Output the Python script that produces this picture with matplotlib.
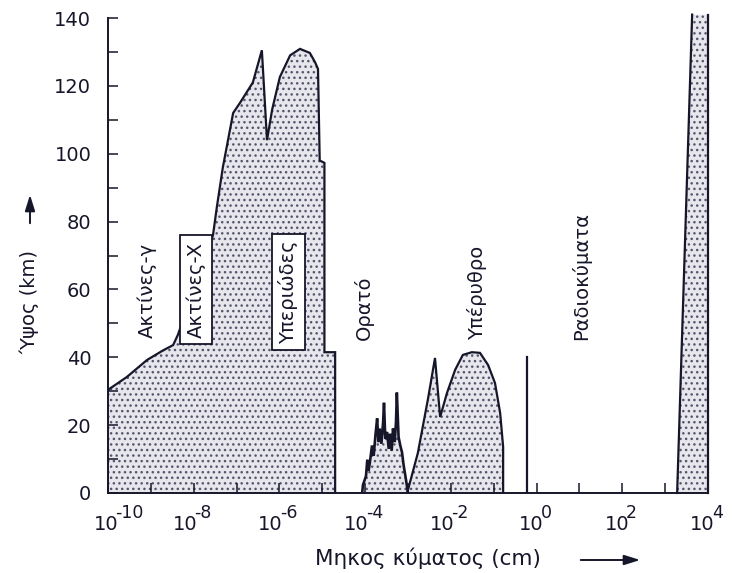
import numpy as np
import matplotlib
matplotlib.use("Agg")
import matplotlib.pyplot as plt
from matplotlib.ticker import FixedLocator, NullFormatter, MultipleLocator
from matplotlib.patches import FancyArrowPatch

plt.rcParams['font.family'] = ['DejaVu Sans']

#ατμοσφαιρική απορρόφηση: log10(μήκος κύματος, cm) και ύψος (km)
main_logwl = [-10.0, -9.56, -9.09, -8.72, -8.48, -8.37, -7.55, -7.46, -7.32, -7.08, -6.92,
              -6.62, -6.41, -6.38, -6.29, -6.17, -5.99, -5.75, -5.52, -5.29, -5.17, -5.10,
              -5.06, -4.95, -4.95, -4.70, -4.70]
main_km = [30.4, 34.2, 39.2, 42.0, 43.6, 46.6, 76.0, 84.3, 96.0, 112.0, 115.0,
           121.0, 130.5, 124.0, 104.0, 113.0, 122.6, 129.0, 130.9, 129.7, 127.0, 125.0,
           98.0, 97.3, 41.5, 41.5, 0.0]

vis_logwl = [-4.07, -4.05, -3.98, -3.95, -3.92, -3.89, -3.84, -3.80, -3.76, -3.72, -3.69,
             -3.66, -3.62, -3.58, -3.56, -3.53, -3.49, -3.45, -3.42, -3.38, -3.35, -3.31,
             -3.28, -3.26, -3.22, -3.18, -3.14, -3.10, -3.06, -3.00]
vis_km = [0, 2.4, 5.0, 9.8, 6.5, 9.0, 14.0, 11.0, 17.0, 22.0, 15.0,
          19.0, 14.5, 21.0, 26.6, 16.0, 18.0, 13.0, 17.5, 12.5, 19.0, 15.0,
          21.0, 29.6, 16.5, 14.0, 12.0, 8.0, 5.0, 0]

ir_logwl = [-3.02, -2.77, -2.53, -2.37, -2.25, -2.09, -1.90, -1.72, -1.51, -1.32, -1.13,
            -0.97, -0.85, -0.78, -0.78]
ir_km = [0, 11.8, 28.0, 39.8, 22.4, 29.5, 36.3, 40.7, 41.5, 41.3, 37.7,
         32.4, 23.6, 13.6, 0]

line_logwl = [-0.22, -0.22]
line_km = [0, 40]

radio_logwl = [3.28, 3.63, 4.0, 4.0]
radio_km = [0, 141, 141, 0]

#ετικέτες περιοχών
regions = ['Ακτίνες-γ', 'Ακτίνες-X', 'Υπεριώδες', 'Ορατό', 'Υπέρυθρο', 'Ραδιοκύματα']
region_logwl = [-9.09, -7.94, -5.79, -4.03, -1.40, 1.03]
region_km = [45.8, 59.9, 59.3, 45.2, 45.2, 45.2]
region_box = [False, True, True, False, False, False]

xtick_exp = [-10, -8, -6, -4, -2, 0, 2, 4]
ytick_km = [0, 20, 40, 60, 80, 100, 120, 140]

ink = '#16162a'
face = '#e6e6ec'
dots = '#55556c'

fig = plt.figure(figsize=(7.35, 5.73), dpi=100)
ax = fig.add_axes([108/735, 1-493/573, 600/735, 475/573])


def area(logwl, km, lw=1.6):
    wl = 10.0 ** np.array(logwl)
    ax.fill_between(wl, km, 0, facecolor=face, edgecolor=dots, hatch='...',
                    linewidth=0, zorder=1)
    ax.plot(wl, km, color=ink, linewidth=lw, zorder=3, solid_joinstyle='miter')


area(main_logwl, main_km)
area(vis_logwl, vis_km, lw=1.9)
area(ir_logwl, ir_km)
ax.plot(10.0 ** np.array(line_logwl), line_km, color=ink, linewidth=1.6, zorder=3)

rw = 10.0 ** np.array(radio_logwl)
ax.fill(rw, radio_km, facecolor=face, edgecolor=dots, hatch='...', linewidth=0,
        zorder=1, clip_on=False)
ax.plot(rw[:2], radio_km[:2], color=ink, linewidth=1.6, zorder=3, clip_on=False)
ax.plot(rw[2:], radio_km[2:], color=ink, linewidth=1.6, zorder=3, clip_on=False)

for name, lx, ly, boxed in zip(regions, region_logwl, region_km, region_box):
    if boxed:
        ax.text(10.0 ** lx, ly, name, rotation=90, ha='center', va='center',
                fontsize=14, color=ink, zorder=5,
                bbox=dict(boxstyle='square,pad=0.33', facecolor='white',
                          edgecolor=ink, linewidth=1.3))
    else:
        ax.text(10.0 ** lx, ly, name, rotation=90, ha='center', va='bottom',
                fontsize=14, color=ink, zorder=5)

ax.set_xscale('log')
ax.set_xlim(1e-10, 1e4)
ax.set_ylim(0, 140)

ax.xaxis.set_major_locator(FixedLocator([10.0 ** e for e in xtick_exp]))
ax.xaxis.set_minor_locator(FixedLocator([10.0 ** e for e in range(-9, 4, 2)]))
ax.xaxis.set_major_formatter(NullFormatter())
ax.xaxis.set_minor_formatter(NullFormatter())
ax.yaxis.set_major_locator(FixedLocator(ytick_km))
ax.yaxis.set_minor_locator(MultipleLocator(10))

ax.tick_params(which='both', direction='in', length=7, width=1.1, color=ink)
ax.tick_params(axis='y', labelsize=14, pad=12, labelcolor=ink)

for s in ['top', 'right']:
    ax.spines[s].set_visible(False)
for s in ['left', 'bottom']:
    ax.spines[s].set_color(ink)
    ax.spines[s].set_linewidth(1.4)

#ετικέτες x: «10» με μεγάλο εκθέτη
renderer = fig.canvas.get_renderer()
for i, e in enumerate(xtick_exp):
    base = ax.annotate('10', xy=(10.0 ** e, 0), xycoords=('data', 'axes fraction'),
                       xytext=(0, -32), textcoords='offset pixels', ha='left',
                       va='center', fontsize=14, color=ink, annotation_clip=False)
    sup = ax.annotate('-%d' % -e if e < 0 else '%d' % e, xy=(10.0 ** e, 0),
                      xycoords=('data', 'axes fraction'), xytext=(0, -20),
                      textcoords='offset pixels', ha='left', va='center',
                      fontsize=12.5, color=ink, annotation_clip=False)
    w10 = base.get_window_extent(renderer).width
    wexp = sup.get_window_extent(renderer).width
    left = -(w10 + wexp) / 2 + (12 if i == 0 else 0)
    base.xyann = (left, -32)
    sup.xyann = (left + w10 - 3, -20)

fig.text(428/735, 1-558/573, 'Μηκος κύματος (cm)', ha='center', va='center',
         fontsize=15.5, color=ink)
fig.text(30/735, 1-302/573, 'Ύψος (km)', ha='center', va='center', rotation=90,
         fontsize=14, color=ink)
fig.patches.append(FancyArrowPatch(
    (578/735, 1-560/573), (643/735, 1-560/573), transform=fig.transFigure,
    arrowstyle='-|>,head_length=0.8,head_width=0.25', mutation_scale=12,
    color=ink, linewidth=1.4))
fig.patches.append(FancyArrowPatch(
    (30/735, 1-226/573), (30/735, 1-192/573), transform=fig.transFigure,
    arrowstyle='-|>,head_length=0.8,head_width=0.25', mutation_scale=12,
    color=ink, linewidth=1.4))

plt.savefig('out.png', dpi=100)
plt.close()
